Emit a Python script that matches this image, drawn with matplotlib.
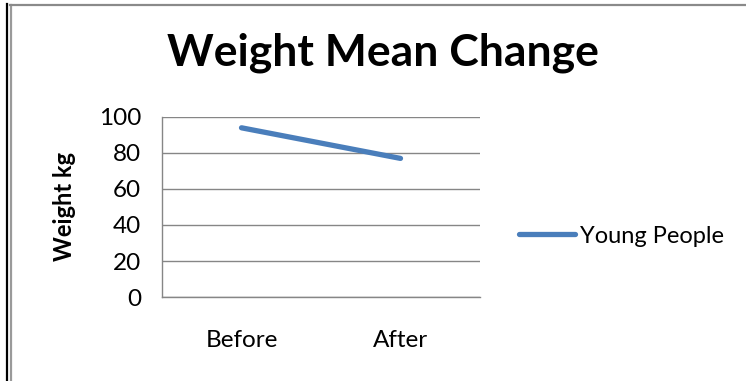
import matplotlib
matplotlib.use("Agg")
import matplotlib.pyplot as plt
from matplotlib.lines import Line2D

categories = ["Before", "After"]
young_people = [94, 77]
y_ticks = [0, 20, 40, 60, 80, 100]

W, H = 746, 381
fig = plt.figure(figsize=(W / 100, H / 100), dpi=100)
fig.patch.set_facecolor("white")
plt.rcParams["font.family"] = ["Lato", "DejaVu Sans"]

def px(x, y):
    return x / W, 1 - y / H

# frame around the chart
fig.add_artist(Line2D([7 / W, 7 / W], [0, 1 - 4 / H], transform=fig.transFigure,
                      color="black", lw=1.6))
fig.add_artist(Line2D([11 / W, 11 / W], [0, 1 - 5 / H], transform=fig.transFigure,
                      color="#9a9a9a", lw=1.6))
fig.add_artist(Line2D([10 / W, 1], [1 - 5 / H, 1 - 5 / H], transform=fig.transFigure,
                      color="#8a8a8a", lw=1.6))

left, right, top, bottom = 162, 480, 117, 297
ax = fig.add_axes([left / W, 1 - bottom / H, (right - left) / W, (bottom - top) / H])

x = list(range(len(categories)))
ax.plot(x, young_people, color="#4A7EBB", lw=3.8, solid_capstyle="round",
        label="Young People")

ax.set_xlim(-0.5, len(categories) - 0.5)
ax.set_ylim(0, 100)
ax.set_yticks(y_ticks)
ax.set_xticks(x)
ax.set_xticklabels(categories)
ax.grid(axis="y", color="#868686", lw=1.0)
ax.set_axisbelow(True)
for s in ["top", "right"]:
    ax.spines[s].set_visible(False)
for s in ["left", "bottom"]:
    ax.spines[s].set_color("#868686")
    ax.spines[s].set_linewidth(1.0)
ax.tick_params(axis="both", length=0, labelsize=17.5, colors="black")
ax.tick_params(axis="y", pad=15)
ax.tick_params(axis="x", pad=24)

ax.set_ylabel("Weight kg", fontsize=17, fontweight="bold", labelpad=0)
ax.yaxis.set_label_coords(-(left - 76) / (right - left), 0.5)

fig.text(383 / W, 1 - 53 / H, "Weight Mean Change", ha="center", va="center",
         fontsize=32, fontweight="bold")

leg = fig.legend(loc="center left", bbox_to_anchor=px(519, 236), frameon=False,
                 fontsize=17, handlelength=2.37, handletextpad=0.2,
                 borderpad=0, borderaxespad=0)

fig.savefig("out.png", dpi=100, facecolor="white")
